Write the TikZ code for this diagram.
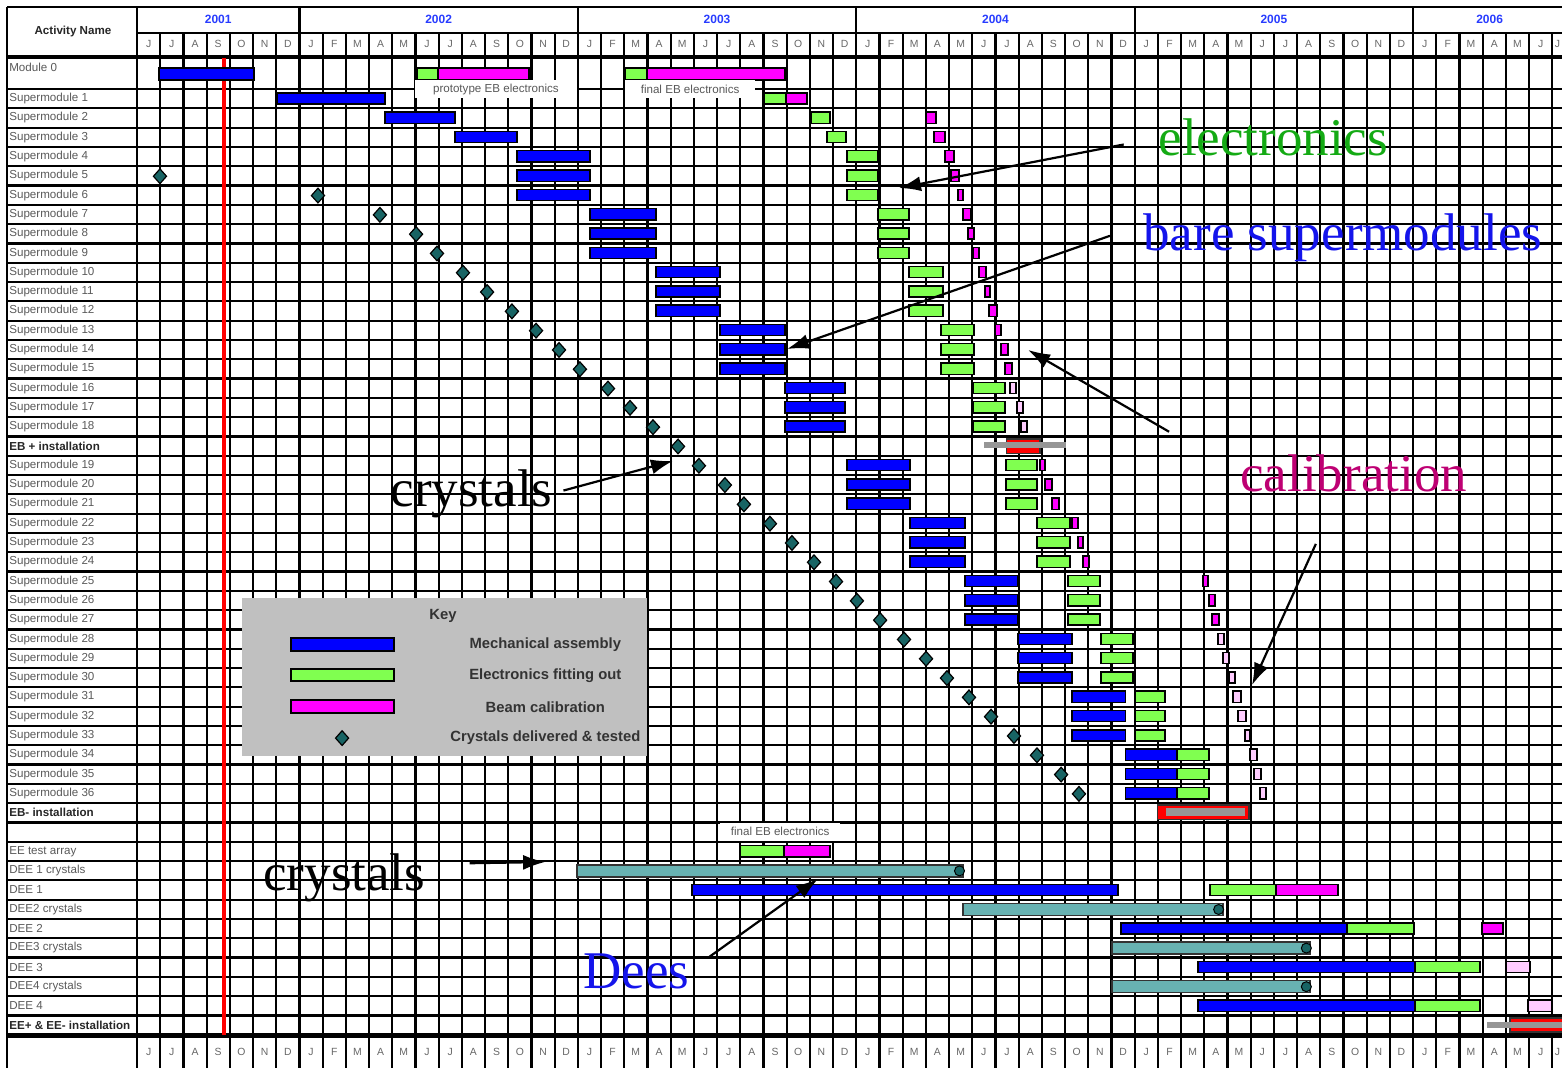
\documentclass[tikz,border=0pt]{standalone}
\usepackage{fontspec}
\setmainfont{Liberation Sans}
\newfontfamily\notefont{Liberation Serif}
\usetikzlibrary{arrows.meta,positioning,shapes.geometric}

\definecolor{mechblue}{RGB}{0,0,255}
\definecolor{elecgreen}{RGB}{128,255,80}
\definecolor{calmag}{RGB}{255,0,255}
\definecolor{calpink}{RGB}{255,204,255}
\definecolor{crysteal}{RGB}{104,178,178}
\definecolor{dkteal}{RGB}{24,100,100}
\definecolor{keygrey}{RGB}{192,192,192}
\definecolor{instgrey}{RGB}{150,150,150}
\definecolor{yearblue}{RGB}{40,60,255}
\definecolor{notegreen}{RGB}{20,170,20}
\definecolor{noteblue}{RGB}{20,20,235}
\definecolor{notemag}{RGB}{190,0,115}

\begin{document}
\begin{tikzpicture}[
    x=11.6pt, y=-9.65pt,
    gridline/.style={line width=1.1pt},
    mech/.style={draw, line width=0.7pt, fill=mechblue},
    elec/.style={draw, line width=0.7pt, fill=elecgreen},
    beam/.style={draw, line width=0.7pt, fill=calmag},
    beamlt/.style={draw, line width=0.7pt, fill=calpink},
    crys/.style={draw=black!80, line width=0.7pt, fill=crysteal},
    gem/.style={diamond, draw, line width=0.6pt, fill=dkteal, inner sep=0pt, minimum width=6.8pt, minimum height=7.6pt},
    endmark/.style={circle, draw, line width=0.5pt, fill=dkteal, inner sep=0pt, minimum size=5pt},
    rowlbl/.style={anchor=west, inner sep=0pt, font=\fontsize{5.8}{6}\selectfont, text=black!65},
    rowbold/.style={rowlbl, font=\bfseries\fontsize{5.8}{6}\selectfont, text=black!85},
    monlbl/.style={inner sep=0pt, font=\fontsize{5.2}{6}\selectfont, text=black!60},
    yearlbl/.style={inner sep=0pt, font=\bfseries\fontsize{6}{7}\selectfont, text=yearblue},
    keylbl/.style={inner sep=0pt, font=\bfseries\fontsize{7.4}{8}\selectfont, text=black!80},
    phase/.style={fill=white, inner sep=0pt, minimum height=9pt, font=\fontsize{5.8}{6}\selectfont, text=black!65},
    bigtxt/.style={anchor=base west, inner sep=0pt, font=\notefont\fontsize{26.5}{28}\selectfont},
    arrow/.style={-{Latex[length=11pt,width=7.5pt]}, line width=1.1pt}
]
    \useasboundingbox (-5.905,-4.611) rectangle (61.42,50.73);

    % header frame and grid
    \draw[gridline] (-5.603,-4.249) -- (61.42,-4.249);
    \draw[gridline] (0,-2.902) -- (61.42,-2.902);
    \draw[gridline] (-5.603,-4.249) -- (-5.603,50.73);
    \draw[gridline] (0,-4.249) -- (0,50.73);
    \foreach \m in {7,19,31,43,55}
        \draw[gridline] (\m,-4.249) -- (\m,-2.902);
    \foreach \m in {1,...,61}
        \draw[gridline] (\m,-2.902) -- (\m,50.73);
    \foreach \r in {0,...,48}
        \draw[gridline] (-5.603,\r) -- (61.42,\r);
    \draw[line width=2pt] (-5.603,-1.658) -- (61.42,-1.658);
    \draw[line width=2.5pt] (-5.603,49.04) -- (61.42,49.04);

    % header texts
    \node[rowbold, anchor=center] (actname) at (-2.76,-3.0) {Activity Name};
    \foreach \yr/\x in {2001/3.5, 2002/13, 2003/25, 2004/37, 2005/49, 2006/58.3}
        \node[yearlbl] (y\yr) at (\x,-3.63) {\yr};
    \foreach \lt [count=\k from 0] in {J,J,A,S,O,N,D,
            J,F,M,A,M,J,J,A,S,O,N,D, J,F,M,A,M,J,J,A,S,O,N,D,
            J,F,M,A,M,J,J,A,S,O,N,D, J,F,M,A,M,J,J,A,S,O,N,D,
            J,F,M,A,M,J} {
        \node[monlbl] (mt\k) at (\k+0.5,-2.33) {\lt};
        \node[monlbl] (mb\k) at (\k+0.5,49.9) {\lt};
    }
    \node[monlbl] (mt61) at (61.22,-2.33) {J};
    \node[monlbl] (mb61) at (61.22,49.9) {J};

    % activity names
    \node[rowlbl] (mod0) at (-5.52,-1.14) {Module 0};
    \foreach \s in {1,...,18}
        \node[rowlbl] (sm\s) at (-5.52,\s-0.5) {Supermodule \s};
    \node[rowbold] (ebp) at (-5.52,18.5) {EB + installation};
    \foreach \s in {19,...,36}
        \node[rowlbl] (sm\s) at (-5.52,\s+0.5) {Supermodule \s};
    \node[rowbold] (ebm) at (-5.52,37.5) {EB- installation};
    \foreach \r/\t [count=\k] in {39.5/EE test array, 40.5/DEE 1 crystals, 41.5/DEE 1,
            42.5/DEE2 crystals, 43.5/DEE 2, 44.5/DEE3 crystals, 45.5/DEE 3,
            46.5/DEE4 crystals, 47.5/DEE 4}
        \node[rowlbl] (ee\k) at (-5.52,\r) {\t};
    \node[rowbold] (eeinst) at (-5.52,48.5) {EE+ \& EE- installation};

    % today line
    \draw[red, line width=2pt] (3.75,-1.6) -- (3.75,49);

    % module 0
    \draw[mech] (0.95,-1.09) rectangle (5.04,-0.47);
    \draw[elec] (12.07,-1.09) rectangle (12.97,-0.47);
    \draw[beam] (12.97,-1.09) rectangle (16.90,-0.47);
    \draw[elec] (21.03,-1.09) rectangle (21.98,-0.47);
    \draw[beam] (21.98,-1.09) rectangle (27.93,-0.47);

    % mechanical assembly
    \foreach \r/\a/\b in {0/6.03/10.69, 1/10.69/13.71, 2/13.71/16.38,
            3/16.38/19.53, 4/16.38/19.53, 5/16.38/19.53,
            6/19.53/22.37, 7/19.53/22.37, 8/19.53/22.37,
            9/22.37/25.13, 10/22.37/25.13, 11/22.37/25.13,
            12/25.13/27.93, 13/25.13/27.93, 14/25.13/27.93,
            15/27.93/30.52, 16/27.93/30.52, 17/27.93/30.52,
            19/30.60/33.32, 20/30.60/33.32, 21/30.60/33.32,
            22/33.32/35.69, 23/33.32/35.69, 24/33.32/35.69,
            25/35.69/37.97, 26/35.69/37.97, 27/35.69/37.97,
            28/37.97/40.30, 29/37.97/40.30, 30/37.97/40.30,
            31/40.30/42.61, 32/40.30/42.61, 33/40.30/42.61,
            34/42.61/44.83, 35/42.61/44.83, 36/42.61/44.83,
            41/23.92/42.28, 43/42.41/52.16, 45/45.73/55.09, 47/45.73/55.09}
        \draw[mech] (\a,\r+0.2) rectangle (\b,\r+0.78);

    % electronics fitting out
    \foreach \r/\a/\b in {0/27.03/27.97, 1/29.05/29.87, 2/29.74/30.56,
            3/30.60/31.94, 4/30.60/31.94, 5/30.60/31.94,
            6/31.94/33.28, 7/31.94/33.28, 8/31.94/33.28,
            9/33.28/34.74, 10/33.28/34.74, 11/33.28/34.74,
            12/34.66/36.08, 13/34.66/36.08, 14/34.66/36.08,
            15/36.03/37.41, 16/36.03/37.41, 17/36.03/37.41,
            19/37.46/38.79, 20/37.46/38.79, 21/37.46/38.79,
            22/38.79/40.22, 23/38.79/40.22, 24/38.79/40.22,
            25/40.13/41.51, 26/40.13/41.51, 27/40.13/41.51,
            28/41.55/42.93, 29/41.55/42.93, 30/41.55/42.93,
            31/43.02/44.31, 32/43.02/44.31, 33/43.02/44.31,
            34/44.83/46.21, 35/44.83/46.21, 36/44.83/46.21,
            39/25.99/27.89, 41/46.25/49.09, 43/52.16/55.04,
            45/55.09/57.89, 47/55.09/57.89}
        \draw[elec] (\a,\r+0.2) rectangle (\b,\r+0.78);

    % beam calibration
    \foreach \r/\a/\b in {0/27.97/28.88, 39/27.89/29.87, 41/49.09/51.77, 43/57.97/58.88,
            1/34.01/34.44, 2/34.35/34.83, 3/34.83/35.22, 4/35.09/35.43,
            5/35.39/35.60, 6/35.60/35.95, 7/35.82/36.08, 8/36.03/36.29,
            9/36.29/36.59, 10/36.55/36.77, 11/36.72/37.07, 12/36.98/37.24,
            13/37.24/37.54, 14/37.41/37.72, 19/38.92/39.14, 20/39.14/39.44,
            21/39.44/39.74, 22/40.30/40.56, 23/40.56/40.78, 24/40.78/41.03,
            25/45.95/46.16, 26/46.21/46.47, 27/46.34/46.64}
        \draw[beam] (\a,\r+0.2) rectangle (\b,\r+0.78);
    \foreach \r/\a/\b in {15/37.63/37.89, 16/37.93/38.19, 17/38.10/38.36,
            28/46.59/46.85, 29/46.81/47.07, 30/47.07/47.33, 31/47.24/47.59,
            32/47.46/47.80, 33/47.76/47.97, 34/47.97/48.28, 35/48.15/48.45,
            36/48.41/48.66, 45/59.01/60.04, 47/59.96/60.99}
        \draw[beamlt] (\a,\r+0.2) rectangle (\b,\r+0.78);

    % crystals for the dees
    \foreach \r/\a/\b/\e [count=\k] in {40/18.97/35.60/35.45, 42/35.60/46.81/46.62,
            44/42.03/50.56/50.40, 46/42.03/50.56/50.40} {
        \draw[crys] (\a,\r+0.2) rectangle (\b,\r+0.82);
        \node[endmark] (cend\k) at (\e,\r+0.51) {};
    }

    % installation
    \draw[draw=black!80, line width=0.6pt, fill=red] (37.46,18.13) rectangle (38.92,18.87);
    \fill[instgrey] (36.51,18.29) rectangle (40.04,18.6);
    \draw[draw=black!80, line width=0.6pt, fill=red] (43.97,37.1) rectangle (47.93,37.83);
    \fill[instgrey] (44.35,37.26) rectangle (47.76,37.67);
    \draw[draw=black!80, line width=0.6pt, fill=red] (59.18,48.13) rectangle (61.6,48.86);
    \fill[instgrey] (58.19,48.34) rectangle (61.6,48.65);

    % crystals delivered
    \foreach \r/\m [count=\k] in {4/0.99, 5/7.80, 6/10.47, 7/12.03, 8/12.93, 9/14.05,
            10/15.09, 11/16.16, 12/17.20, 13/18.19, 14/19.09, 15/20.30, 16/21.25,
            17/22.24, 18/23.32, 19/24.22, 20/25.34, 21/26.16, 22/27.28, 23/28.23,
            24/29.18, 25/30.13, 26/31.03, 27/32.03, 28/33.06, 29/34.01, 30/34.91,
            31/35.86, 32/36.81, 33/37.80, 34/38.79, 35/39.83, 36/40.60}
        \node[gem] (cd\k) at (\m,\r+0.52) {};

    % phase tags
    \node[phase, minimum width=81pt] (proto) at (15.47,0) {prototype  EB electronics};
    \node[phase, minimum width=65pt] (finalA) at (23.84,0) {final  EB electronics};
    \node[phase, minimum width=60pt] (finalB) at (27.72,38.47) {final EB electronics};

    % key
    \fill[keygrey] (4.53,26.37) rectangle (21.98,34.56);
    \node[keylbl] (keyttl) at (13.19,27.3) {Key};
    \draw[mech] (6.64,28.45) rectangle (11.08,29.12);
    \draw[elec] (6.64,30.05) rectangle (11.08,30.67);
    \draw[beam] (6.64,31.66) rectangle (11.08,32.33);
    \node[gem] (keygem) at (8.84,33.63) {};
    \node[keylbl] (keymech) at (17.6,28.81) {Mechanical assembly};
    \node[keylbl] (keyelec) at (17.6,30.41) {Electronics fitting out};
    \node[keylbl] (keybeam) at (17.6,32.02) {Beam calibration};
    \node[keylbl] (keycrys) at (17.6,33.63) {Crystals delivered \& tested};

    % annotations
    \node[bigtxt, text=notegreen] (elec) at (44.01,3.47) {electronics};
    \node[bigtxt, text=noteblue] (bare) at (43.36,8.39) {bare supermodules};
    \node[bigtxt, text=notemag] (calib) at (47.54,20.83) {calibration};
    \node[bigtxt] (crysA) at (10.91,21.61) {crystals};
    \node[bigtxt] (crysB) at (5.43,41.55) {crystals};
    \node[bigtxt, text=noteblue] (dees) at (19.22,46.58) {Dees};

    \coordinate (elecTip) at (32.84,5.13);
    \coordinate (bareTip) at (28.02,13.47);
    \coordinate (calTipA) at (38.41,13.52);
    \coordinate (calTipB) at (48.06,30.88);
    \coordinate (cryTipA) at (23.10,19.27);
    \coordinate (cryTipB) at (17.59,40.05);
    \coordinate (deesTip) at (29.35,40.93);

    \draw[arrow, shorten <=17.5pt] (elec.west) -- (elecTip);
    \draw[arrow, shorten <=17.5pt] (bare.176) -- (bareTip);
    \draw[arrow, shorten <=41pt] (calib.west) -- (calTipA);
    \draw[arrow, shorten <=28.5pt] (calib.233) -- (calTipB);
    \draw[arrow, shorten <=5.5pt] (crysA.east) -- (cryTipA);
    \draw[arrow, shorten <=22pt] (crysB.10) -- (cryTipB);
    \draw[arrow, shorten <=11.5pt] (dees.east) -- (deesTip);
\end{tikzpicture}
\end{document}
